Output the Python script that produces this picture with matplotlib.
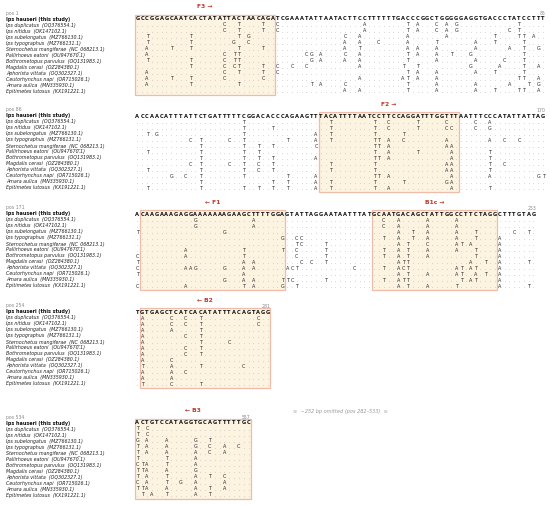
import matplotlib
matplotlib.use("Agg")
import matplotlib.pyplot as plt
from matplotlib.patches import Rectangle

# ---- data ----
species = [
    "Ips duplicatus", "Ips nitidus", "Ips subelongatus", "Ips typographus",
    "Sternochetus mangiferae", "Pallirhoeus eatoni", "Bothrometopus parvulus",
    "Magdalis cerasi", "Aphorista vittata", "Ceutorhynchus napi",
    "Amara aulica", "Epitimetes lutosus",
]
accessions = [
    "OQ376554.1", "OK147102.1", "MZ766130.1", "MZ766131.1", "NC_068213.1",
    "OU947670.1", "OQ131983.1", "OZ284380.1", "OQ302327.1", "OR715026.1",
    "MN335930.1", "KX191221.1",
]
ref_name = "Ips hauseri (this study)"

block_starts = [1, 86, 171, 254, 534]

ref_seqs = [
    "GCCGGAGCAATCACTATATTACTAACAGATCGAAATATTAATACTTCCTTTTTTGACCCGGCTGGGGGAGGTGACCCTATCCTTT",
    "ACCAACATTTATTCTGATTTTTCGGACACCCAGAAGTTTACATTTTAATCCTTCCAGGATTTGGTTTAATTTCCCATATTATTAG",
    "ACAAGAAAGAGGAAAAAAAGAAGCTTTTGGAGTATTAGGAATAATTTATGCAATGACAGCTATTGGCCTTCTAGGCTTTGTAG",
    "TGTGAGCTCATCACATATTTACAGTAGG",
    "ACTGTCCATAGGTGCAGTTTTTGC",
]

# differences from the reference: "<column><base>" (column counted from 0 in each block)
diffs_b1 = [
    "18C 21T 26T 29C 47A 56T 58A 62C 64A 66G 79T",
    "18C 21T 26T 29C 47A 56T 58A 62C 64A 66G 77C 79T",
    "2T 11T 21T 23G 43C 46A 56A 64A 74T 79T 80T 82A",
    "2T 11T 20G 23C 43A 46A 50C 56A 62T 70A 74T 80T",
    "2A 7T 11T 21T 26T 43A 46T 56A 58A 62A 70A 77A 80T 83G",
    "2A 18C 20T 21T 35C 36G 38A 43C 46A 56T 58A 62A 65T 69G 80T",
    "2T 11T 18C 20T 21T 36G 38A 43A 46A 56T 62A 70A 76C 80T",
    "11T 18C 20C 21T 26T 29C 32C 35C 46A 55T 58T 69G 75A 80T 83A",
    "2A 18C 21T 26T 29C 56T 58A 62A 70A 74T 80T",
    "2A 7T 11T 18C 26C 46A 55A 56T 58A 62A 79T 80T 83A",
    "2A 11T 21T 36T 38A 43C 56T 62A 70A 77A 81T 83G",
    "43A 46A 56T 62A 70A 74T 79T 80T 83A",
]
diffs_b2 = [
    "22T 40T 49T 52C 58T 64C 70C 73A",
    "22T 28T 40T 49T 52C 58T 64C 65C 70C 73G",
    "2T 4G 22T 37A 40T 49T 55T",
    "11C 13T 19C 22T 31T 37A 40T 49T 50T 52A 55C 64A 73A 76C 79C",
    "13T 22T 25T 28T 37C 49T 50T 52A 64A 65A",
    "2T 13T 22T 25T 49T 52A 58T 65A 73T",
    "13T 22T 25T 28T 37A 49T 50T 52A 65A 73T",
    "11C 13T 19C 22T 25C 28T 40T 49T 64A 65A 73T 76C",
    "2T 13T 22T 25C 28T 40T 49T 64A 65A 73T",
    "7G 10C 13T 22T 31T 37A 49T 50T 52A 65A 73A 83G 84T",
    "13T 28T 31T 37A 40T 49T 55T 64G 65A",
    "2T 13T 22T 25T 28T 31T 37A 40T 49T 52A 65A 73T",
]
diffs_b3 = [
    "12G 24A 51C 54A 60A 66A",
    "12G 24A 51C 54A 60A 66A",
    "0T 18G 54A 57T 60A 66A 70T 78C 81T",
    "30G 33C 34C 51T 54A 57T 60A 66A 70T 75A",
    "33T 34C 39T 54A 56T 60C 66A 67T 69A 75A",
    "10A 22T 30T 33C 39T 51T 54A 56T 60A 66A 70T 75A",
    "0C 10A 22T 33C 39T 51T 54A 56T 60A 70T 75A",
    "0T 22A 24A 34C 36C 39T 54A 55T 56T 69A 72T 75A 81T",
    "0C 10A 11A 12G 18G 22A 24A 31A 32C 33T 45C 51T 54A 55C 56T 66A 67T 69A 70T 75A",
    "0T 22A 54A 56T 60A 66A 67T 70A 72T 75A",
    "18G 22A 24A 30T 31T 32C 39T 51T 54A 55T 56T 67T 69A 70T 75A",
    "0C 10A 22T 24A 30G 33T 54A 56T 60A 66T 75A 81T",
]
diffs_b4 = [
    "1A 7C 10C 13T 25C", "1A 7C 10C 13T 25C", "1A 7A 13T", "1A 10C 13T",
    "1A 13T 19C", "1A 10C 13T", "1A 10C 13T", "1A 7C",
    "1T 7A 13T 22C", "1A 7A 10C", "1A 7A", "1T 7C 13T",
]
diffs_b5 = [
    "0T 2C", "0T 2C", "0G 2A 6A 12G 15T", "0T 2A 6A 12G 15C 18A 21C",
    "0T 2A 6A 12A 15C 18A", "0T 6T 12A", "0C 1T 2A 6T 12A", "0T 1T 2A 6A 12G",
    "0T 2A 6T 12A 15T 18C", "0C 2A 6T 9G 12A 18A", "0T 1T 2A 6A 12A 15T 18A",
    "1T 3A 6T 12A 15T",
]
block_diffs = [diffs_b1, diffs_b2, diffs_b3, diffs_b4, diffs_b5]

# primer regions: (block, first col, last col, label)
primers = [
    (0, 0, 28, "F3 \u2192"),
    (1, 38, 66, "F2 \u2192"),
    (2, 1, 30, "\u2190 F1"),
    (2, 49, 74, "B1c \u2192"),
    (3, 1, 27, "\u2190 B2"),
    (4, 0, 23, "\u2190 B3"),
]
omitted_note = "\u2248  ~252 bp omitted (pos 282\u2013533)  \u2248"

# ---- layout ----
block_y = [19, 116, 214, 312, 423]   # y (px) of reference row in each block
row_h = 6.0
name_x = -27.2

fig = plt.figure(figsize=(5.5, 5.05), dpi=100)
ax = fig.add_axes([0, 0, 1, 1])
ax.set_xlim(-28.45, 85.42)
ax.set_ylim(505, 0)
ax.axis("off")

for b, (ref, start) in enumerate(zip(ref_seqs, block_starts)):
    y0 = block_y[b]
    n = len(ref)
    last_y = y0 + row_h * len(species)

    for (pb, c0, c1, lab) in primers:
        if pb != b:
            continue
        ax.add_patch(Rectangle((c0 - 0.5, y0 - 4), c1 - c0 + 1, last_y - y0 + 8,
                               facecolor="#fdf3e1", edgecolor="#efbcaa", lw=0.9, zorder=0))
        ax.text((c0 + c1) / 2, y0 - 12, lab, ha="center", va="center",
                fontsize=4.3, color="#c0392b", weight="bold")

    ax.text(name_x, y0 - 6, f"pos {start}", fontsize=3.3, color="#888888", va="center")
    ax.text(n - 0.5, y0 - 5.5, str(start + n - 1), fontsize=3.3, color="#888888",
            va="center", ha="right")

    ax.text(name_x, y0, ref_name, fontsize=3.5, weight="bold", va="center", color="#111111")
    for i, ch in enumerate(ref):
        ax.text(i, y0, ch, ha="center", va="center", fontsize=3.7, weight="bold",
                color="#111111")

    for r, (sp, acc, d) in enumerate(zip(species, accessions, block_diffs[b])):
        y = y0 + row_h * (r + 1)
        ax.text(name_x, y, f"{sp}  ({acc})", fontsize=3.4, style="italic",
                va="center", color="#222222")
        var = {int(t[:-1]): t[-1] for t in d.split()}
        dots = [i for i in range(n) if i not in var]
        ax.scatter(dots, [y + 1.2] * len(dots), s=0.18, color="#b5b5b5",
                   linewidths=0, zorder=2)
        for i, ch in var.items():
            ax.text(i, y, ch, ha="center", va="center", fontsize=3.5, color="#2a2a2a")

ax.text(42, 411, omitted_note, ha="center", va="center", fontsize=3.6,
        style="italic", color="#9a9a9a")

fig.savefig("out.png", dpi=100)
